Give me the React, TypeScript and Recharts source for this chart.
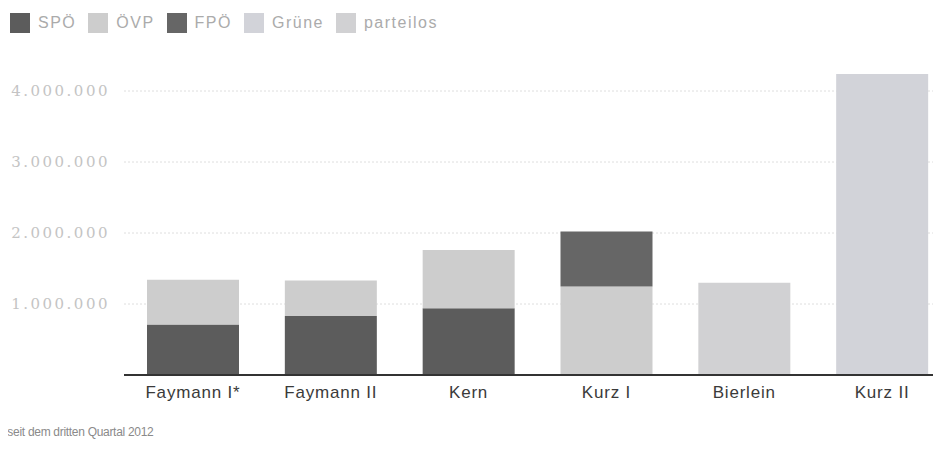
import { BarChart, Bar, XAxis, YAxis, CartesianGrid } from 'recharts'

const governments = ['Faymann I*', 'Faymann II', 'Kern', 'Kurz I', 'Bierlein', 'Kurz II']
const spoValues = [710000, 830000, 940000, 0, 0, 0]
const oevpValues = [630000, 500000, 820000, 1245000, 0, 0]
const fpoeValues = [0, 0, 0, 775000, 0, 0]
const grueneValues = [0, 0, 0, 0, 0, 4240000]
const parteilosValues = [0, 0, 0, 0, 1300000, 0]
const yTicks = [1000000, 2000000, 3000000, 4000000]

const parties = [
  { key: 'spo', name: 'SPÖ', color: '#5c5c5c' },
  { key: 'oevp', name: 'ÖVP', color: '#cdcdcd' },
  { key: 'fpoe', name: 'FPÖ', color: '#666666' },
  { key: 'gruene', name: 'Grüne', color: '#d2d3d9' },
  { key: 'parteilos', name: 'parteilos', color: '#d1d1d3' },
]

const data = governments.map((g, i) => ({
  name: g,
  spo: spoValues[i],
  oevp: oevpValues[i],
  fpoe: fpoeValues[i],
  gruene: grueneValues[i],
  parteilos: parteilosValues[i],
}))

const fmt = (v: number) => v.toLocaleString('de-DE')

export default function App() {
  return (
    // undo the body margin so positions match the picture
    <div style={{ position: 'relative', margin: '-8px 0 0 -8px', width: 941, height: 459, overflow: 'hidden', background: '#fff' }}>
      {/* legend */}
      <div
        style={{
          position: 'absolute',
          top: 13,
          left: 10,
          display: 'flex',
          alignItems: 'center',
          fontFamily: 'Arial, "Liberation Sans", sans-serif',
          fontSize: 16,
          letterSpacing: 1.5,
          color: '#ababab',
        }}
      >
        {parties.map(p => (
          <div key={p.key} style={{ display: 'flex', alignItems: 'center', marginRight: 12 }}>
            <span style={{ width: 20, height: 20, background: p.color, marginRight: 8, display: 'inline-block' }} />
            {p.name}
          </div>
        ))}
      </div>

      <div style={{ position: 'absolute', top: 0, left: 0 }}>
        <BarChart width={951} height={408} data={data} margin={{ top: 55.5, right: 0, left: 0, bottom: 0 }}>
          <CartesianGrid vertical={false} horizontalValues={yTicks} stroke="#dedede" strokeDasharray="2 2" />
          <YAxis
            width={124}
            domain={[0, 4500000]}
            ticks={yTicks}
            tickFormatter={fmt}
            axisLine={false}
            tickLine={false}
            tickSize={0}
            tickMargin={14}
            tick={{ fill: '#c4c4c4', fontSize: 15, fontFamily: '"DejaVu Serif", serif', letterSpacing: 2.5 }}
          />
          <XAxis
            dataKey="name"
            height={33}
            tickLine={false}
            tickSize={0}
            tickMargin={11}
            axisLine={{ stroke: '#333', strokeWidth: 2 }}
            tick={{ fill: '#3a3a3a', fontSize: 17, fontFamily: 'Arial, "Liberation Sans", sans-serif', letterSpacing: 0.8 }}
          />
          {parties.map(p => (
            <Bar key={p.key} dataKey={p.key} name={p.name} stackId="a" fill={p.color} barSize={92} isAnimationActive={false} />
          ))}
        </BarChart>
      </div>

      <div
        style={{
          position: 'absolute',
          top: 425,
          left: 3,
          fontFamily: 'Arial, "Liberation Sans", sans-serif',
          fontSize: 12,
          letterSpacing: -0.3,
          color: '#8a8a8a',
        }}
      >
        *seit dem dritten Quartal 2012
      </div>
    </div>
  )
}
